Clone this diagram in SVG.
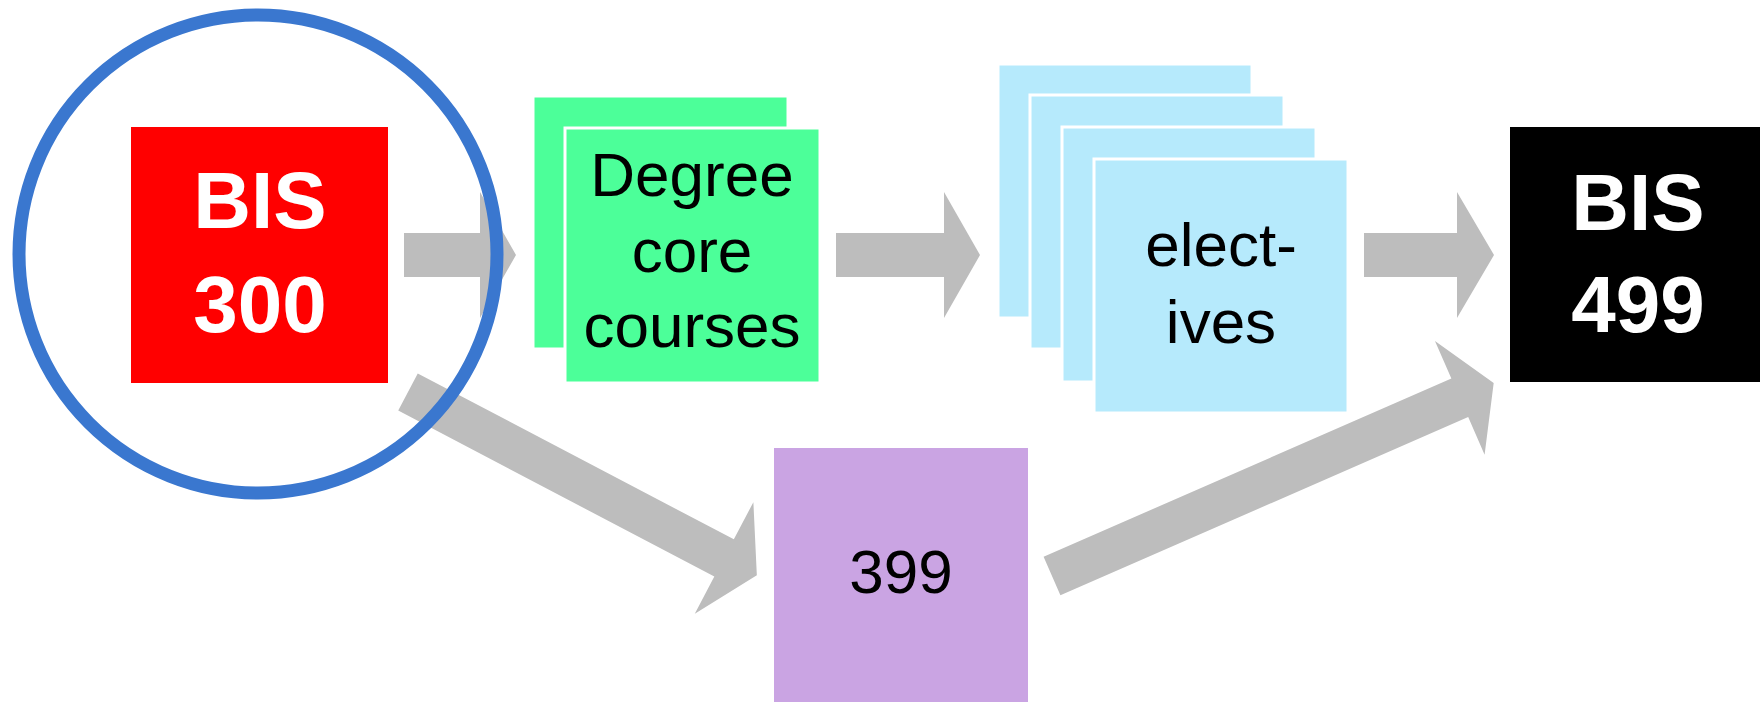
<svg xmlns="http://www.w3.org/2000/svg" width="1760" height="702" viewBox="0 0 1760 702">
<style>
.arrow{fill:#bdbdbd}
.card{stroke:#ffffff;stroke-width:3}
.green{fill:#4cff99}
.blue{fill:#b6eafc}
.t{font-family:"Liberation Sans",Arial,sans-serif;font-size:62px;fill:#000;text-anchor:middle}
.tb{font-family:"Liberation Sans",Arial,sans-serif;font-size:80px;font-weight:bold;fill:#fff;text-anchor:middle}
</style>
<rect width="1760" height="702" fill="#ffffff"/>
<g id="connectors">
<path class="arrow" d="M404,233 H480 V192 L516,255 L480,318 V277 H404 Z"/>
<path class="arrow" d="M836,233 H944 V192 L980,255 L944,318 V277 H836 Z"/>
<path class="arrow" d="M1364,233 H1457 V192 L1494,255 L1457,318 V277 H1364 Z"/>
<path class="arrow" transform="translate(408,392) rotate(27.7)" d="M0,-21 H357 V-63 L394,0 L357,63 V21 H0 Z"/>
<path class="arrow" transform="translate(1052,576) rotate(-23.6)" d="M0,-21 H445 V-62 L482,0 L445,62 V21 H0 Z"/>
</g>
<g id="bis300">
<rect x="131" y="127" width="257" height="256" fill="#ff0000"/>
<text class="tb" x="260" y="228">BIS</text>
<text class="tb" x="260" y="332">300</text>
</g>
<g id="core">
<rect class="card green" x="533" y="96" width="255" height="253"/>
<rect class="card green" x="565" y="128" width="255" height="255"/>
<text class="t" x="692" y="196">Degree</text>
<text class="t" x="692" y="272">core</text>
<text class="t" x="692" y="347">courses</text>
</g>
<g id="electives">
<rect class="card blue" x="998" y="64" width="254" height="254"/>
<rect class="card blue" x="1030" y="95" width="254" height="254"/>
<rect class="card blue" x="1062" y="127" width="254" height="255"/>
<rect class="card blue" x="1094" y="159" width="254" height="254"/>
<text class="t" x="1221" y="266">elect-</text>
<text class="t" x="1221" y="343">ives</text>
</g>
<g id="c399">
<rect x="774" y="448" width="254" height="260" fill="#caa4e3"/>
<text class="t" x="901" y="593">399</text>
</g>
<g id="bis499">
<rect x="1510" y="127" width="257" height="255" fill="#000000"/>
<text class="tb" x="1638" y="230">BIS</text>
<text class="tb" x="1638" y="332">499</text>
</g>
<g id="highlight">
<circle cx="258" cy="254" r="239" fill="none" stroke="#3a77cf" stroke-width="13"/>
</g>
</svg>
